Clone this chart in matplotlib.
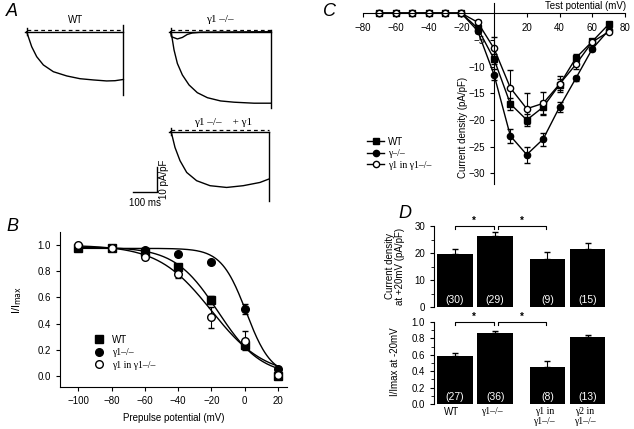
import numpy as np
import matplotlib
matplotlib.use('Agg')
import matplotlib.pyplot as plt
from matplotlib.lines import Line2D
from matplotlib.ticker import MultipleLocator

plt.rcParams['font.family'] = ['Liberation Sans', 'DejaVu Sans']
plt.rcParams['font.size'] = 7
SERIF = ['Liberation Serif', 'DejaVu Serif']

W, H = 634, 429

# ---- panel A: example current traces (ms, pA/pF) ----
wt_t = [0, 6.7, 20.8, 41.7, 69.4, 111, 167, 222, 278, 333, 368, 403]
wt_i = [0, -2, -6, -10, -13.3, -16, -17.7, -18.8, -19.3, -19.7, -19.6, -19.1]
ko_t = [0, 2.8, 13.9, 27.8, 48.6, 76.4, 111, 153, 208, 264, 347, 417]
ko_i = [0, -0.7, -7.3, -12.7, -17.3, -21.3, -24.4, -26.4, -27.7, -28.2, -28.6, -28.6]
ko_small_t = [0, 2.8, 27.8, 48.6, 69, 90, 125, 417]
ko_small_i = [0, -2, -2.9, -2.3, -1.1, -0.5, -0.2, 0]
res_t = [0, 4.2, 17.9, 38.8, 66.7, 108, 164, 233, 302, 372, 410]
res_i = [0, -0.9, -6.3, -11.6, -16.3, -19.6, -21.6, -22.3, -21.6, -20.3, -18.9]

# ---- panel B: steady-state inactivation ----
prepulse = [-100, -80, -60, -40, -20, 0, 20]
b_wt = [0.98, 0.98, 0.95, 0.83, 0.58, 0.24, 0.0]
b_wt_err = [0, 0, 0, 0.02, 0.03, 0.03, 0.02]
b_ko = [0.98, 0.98, 0.96, 0.93, 0.87, 0.51, 0.05]
b_ko_err = [0, 0, 0.01, 0.01, 0.01, 0.04, 0.02]
b_res = [1.0, 0.98, 0.91, 0.78, 0.45, 0.27, 0.01]
b_res_err = [0, 0.01, 0.02, 0.03, 0.08, 0.07, 0.02]
# Boltzmann fit parameters: (amplitude, V1/2, slope)
fit_wt = (0.985, -16, 13)
fit_ko = (0.975, 1, 7.5)
fit_res = (1.0, -20, 16)

# ---- panel C: current-voltage relation ----
test_v = [-70, -60, -50, -40, -30, -20, -10, 0, 10, 20, 30, 40, 50, 60, 70]
c_wt = [0, 0, 0, 0, 0, 0, -2.8, -8.6, -17, -20, -17.6, -13.4, -8.4, -5.3, -2.1]
c_wt_err = [0, 0, 0, 0, 0, 0, 0.5, 1.0, 1.2, 1.2, 1.2, 1.0, 0.8, 0.5, 0.3]
c_ko = [0, 0, 0, 0, 0, 0, -3.3, -11.5, -23, -26.5, -23.6, -17.6, -12.2, -6.7, -3.2]
c_ko_err = [0, 0, 0, 0, 0, 0, 0.5, 1.0, 1.3, 1.5, 1.2, 1.0, 0.5, 0.4, 0.3]
c_res = [0, 0, 0, 0, 0, 0, -1.7, -6.6, -14, -17.9, -16.9, -13.3, -9.6, -5.4, -3.5]
c_res_err = [0, 0, 0, 0, 0, 0, 0.4, 2.2, 3.4, 2.9, 2.2, 1.5, 0.8, 0.5, 0.3]

# ---- panel D: summary bars ----
groups = ['WT', 'γ1–/–', 'γ1 in\nγ1–/–', 'γ2 in\nγ1–/–']
d_density = [19.8, 26.2, 17.8, 21.4]
d_density_err = [1.6, 1.6, 2.7, 2.2]
d_density_n = ['(30)', '(29)', '(9)', '(15)']
d_inact = [0.59, 0.87, 0.45, 0.82]
d_inact_err = [0.03, 0.02, 0.08, 0.025]
d_inact_n = ['(27)', '(36)', '(8)', '(13)']
signif_pairs = [(0, 1), (1, 2)]


def box(l, t, r, b):
    return [l / W, 1 - b / H, (r - l) / W, (b - t) / H]


def boltz(v, a, vh, k):
    return a / (1 + np.exp((v - vh) / k))


fig = plt.figure(figsize=(W / 100, H / 100), dpi=100)

for lab, x, y in [('A', 12, 12), ('B', 12, 226), ('C', 330, 12), ('D', 405, 214)]:
    fig.text(x / W, 1 - y / H, lab, fontsize=13, style='italic',
             ha='center', va='center')

# ---- A ----
ax = fig.add_axes(box(20, 15, 300, 210))
ax.set_xlim((20 - 26.7) / 0.24, (300 - 26.7) / 0.24)
ax.set_ylim(-(210 - 31.7) / 2.5, (31.7 - 15) / 2.5)
ax.axis('off')
kw = dict(color='black', lw=1.0)
traces = [(wt_t, wt_i, 0, 0, (2.7, -25.3)),
          (ko_t, ko_i, 600, 0, (0.7, -30.5)),
          (res_t, res_i, 600, -40, (-0.3, -27.6))]
for t, i, t0, i0, (top, bot) in traces:
    t = np.array(t) + t0
    i = np.array(i) + i0
    ax.plot(t, i, **kw)
    ax.plot([t0 - 6, t[-1]], [i0, i0], **kw)
    ax.plot([t0, t[-1]], [i0 + 0.5, i0 + 0.5], color='black', lw=0.9,
            ls=(0, (3, 2.5)))
    ax.plot([t[-1], t[-1]], [i0 + top, i0 + bot], **kw)
    ax.plot([t0, t0], [i0 + 1.6, i0 - 1.2], **kw)
ax.plot(np.array(ko_small_t) + 600, ko_small_i, **kw)
ax.plot([444, 544, 544], [-64, -64, -54], color='black', lw=1.0)
ax.text(494, -68.5, '100 ms', ha='center', va='center', fontsize=7)
ax.text(572, -59, '10 pA/pF', rotation=90, ha='center', va='center', fontsize=7)
ax.text(205, 4.8, 'WT', ha='center', va='center', fontsize=7)
ax.text(806, 4.8, 'γ1 –/–', ha='center', va='center', fontsize=8, family=SERIF)
ax.text(819, -36.5, 'γ1 –/–    + γ1', ha='center', va='center', fontsize=8,
        family=SERIF)

# ---- B ----
ax = fig.add_axes(box(60, 232, 287, 387))
vv = np.linspace(-100, 20, 200)
for p in (fit_wt, fit_ko, fit_res):
    ax.plot(vv, boltz(vv, *p), color='black', lw=1.0)
ms = 5.5
ax.errorbar(prepulse, b_wt, yerr=b_wt_err, fmt='s', color='black', ms=ms,
            capsize=2, elinewidth=0.8)
ax.errorbar(prepulse, b_ko, yerr=b_ko_err, fmt='o', color='black', ms=ms,
            capsize=2, elinewidth=0.8)
ax.errorbar(prepulse, b_res, yerr=b_res_err, fmt='o', color='black', ms=ms,
            mfc='white', capsize=2, elinewidth=0.8)
ax.set_xlim(-111, 25.5)
ax.set_ylim(-0.084, 1.1)
ax.set_xticks([-100, -80, -60, -40, -20, 0, 20])
ax.set_yticks(np.arange(0, 1.01, 0.2))
ax.yaxis.set_major_formatter(matplotlib.ticker.FormatStrFormatter('%.1f'))
for s in ('top', 'right'):
    ax.spines[s].set_visible(False)
ax.tick_params(length=3, width=0.8)
ax.set_xlabel('Prepulse potential (mV)', fontsize=7, labelpad=5)
fig.text(17 / W, 1 - 300 / H, r'I/I$_{\rm max}$', rotation=90, fontsize=8,
         ha='center', va='center')
handles = [Line2D([], [], marker='s', ls='none', color='black', ms=ms),
           Line2D([], [], marker='o', ls='none', color='black', ms=ms),
           Line2D([], [], marker='o', ls='none', color='black', mfc='white', ms=ms)]
leg = ax.legend(handles, ['WT', 'γ1–/–', 'γ1 in γ1–/–'], loc='upper left',
                bbox_to_anchor=(88 / W, 1 - 330 / H), bbox_transform=fig.transFigure,
                frameon=False, fontsize=7, handlelength=1.2, handletextpad=0.8,
                labelspacing=0.35, borderpad=0)
for tx in leg.get_texts()[1:]:
    tx.set_fontfamily(SERIF)

# ---- C ----
ax = fig.add_axes(box(363, 3, 625, 184))
ms = 4.5
ax.errorbar(test_v, c_wt, yerr=c_wt_err, fmt='s-', color='black', ms=ms,
            lw=1.0, capsize=2, elinewidth=0.8)
ax.errorbar(test_v, c_ko, yerr=c_ko_err, fmt='o-', color='black', ms=ms,
            lw=1.0, capsize=2, elinewidth=0.8)
ax.errorbar(test_v, c_res, yerr=c_res_err, fmt='o-', color='black', ms=ms,
            mfc='white', lw=1.0, capsize=2, elinewidth=0.8)
ax.set_xlim(-80, 80)
ax.set_ylim(-32, 1.9)
ax.spines['left'].set_position(('data', 0))
ax.spines['bottom'].set_position(('data', 0))
for s in ('top', 'right'):
    ax.spines[s].set_visible(False)
ax.set_xticks([-80, -60, -40, -20, 20, 40, 60, 80])
ax.set_yticks([-30, -25, -20, -15, -10, -5])
ax.tick_params(length=3, width=0.8)
ax.tick_params(axis='x', pad=4)
fig.text(626 / W, 1 - 6 / H, 'Test potential (mV)', ha='right', va='center',
         fontsize=7)
fig.text(463 / W, 1 - 127 / H, 'Current density (pA/pF)', rotation=90,
         ha='center', va='center', fontsize=7)
handles = [Line2D([], [], marker='s', color='black', ms=ms, lw=1.0),
           Line2D([], [], marker='o', color='black', ms=ms, lw=1.0),
           Line2D([], [], marker='o', color='black', mfc='white', ms=ms, lw=1.0)]
leg = ax.legend(handles, ['WT', 'γ–/–', 'γ1 in γ1–/–'], loc='upper left',
                bbox_to_anchor=(362 / W, 1 - 132 / H), bbox_transform=fig.transFigure,
                frameon=False, fontsize=7, handlelength=1.8, handletextpad=0.4,
                labelspacing=0.25, borderpad=0)
for tx in leg.get_texts()[1:]:
    tx.set_fontfamily(SERIF)

# ---- D ----
pos = np.array([0, 1, 2.3, 3.3])
top_ax = fig.add_axes(box(434, 226, 607, 307))
bot_ax = fig.add_axes(box(434, 322, 607, 404))
panels = [(top_ax, d_density, d_density_err, d_density_n, 30, 2.5),
          (bot_ax, d_inact, d_inact_err, d_inact_n, 1.0, 0.08)]
for ax, vals, errs, ns, ytop, ny in panels:
    ax.bar(pos, vals, width=0.88, color='black',
           yerr=[np.zeros(len(errs)), errs],
           error_kw=dict(ecolor='black', capsize=2, elinewidth=0.8))
    for p, n in zip(pos, ns):
        ax.text(p, ny, n, color='white', ha='center', va='center', fontsize=7.5)
    ax.set_xlim(-0.52, 3.78)
    ax.set_ylim(0, ytop)
    for s in ('top', 'right', 'bottom'):
        ax.spines[s].set_visible(False)
    ax.tick_params(axis='y', length=3, width=0.8)
    ax.tick_params(axis='y', which='minor', length=2, width=0.6)
    for a, b in signif_pairs:
        x1, x2 = pos[a] + 0.0, pos[b] - 0.04
        if a == 1:
            x1 = pos[a] + 0.08
        y = ytop
        d = ytop * 0.04
        ax.plot([x1, x1, x2, x2], [y - d, y, y, y - d], color='black', lw=0.8,
                clip_on=False)
        ax.text((x1 + x2) / 2, y + d * 0.2, '*', ha='center', va='bottom',
                fontsize=7, fontweight='bold')

top_ax.set_yticks([0, 10, 20, 30])
top_ax.yaxis.set_minor_locator(MultipleLocator(5))
top_ax.set_xticks([])
bot_ax.set_yticks(np.arange(0, 1.01, 0.2))
bot_ax.yaxis.set_major_formatter(matplotlib.ticker.FormatStrFormatter('%.1f'))
bot_ax.yaxis.set_minor_locator(MultipleLocator(0.1))
bot_ax.set_xticks(pos - 0.08, groups)
bot_ax.tick_params(axis='x', length=0, pad=2)
for i, tl in enumerate(bot_ax.get_xticklabels()):
    tl.set_va('top')
    if i > 0:
        tl.set_fontfamily(SERIF)
fig.text(395 / W, 1 - 266 / H, 'Current density\nat +20mV (pA/pF)', rotation=90,
         ha='center', va='center', fontsize=7, linespacing=1.1)
fig.text(395 / W, 1 - 362 / H, 'I/Imax at -20mV', rotation=90,
         ha='center', va='center', fontsize=7)

fig.savefig('out.png', dpi=100)
